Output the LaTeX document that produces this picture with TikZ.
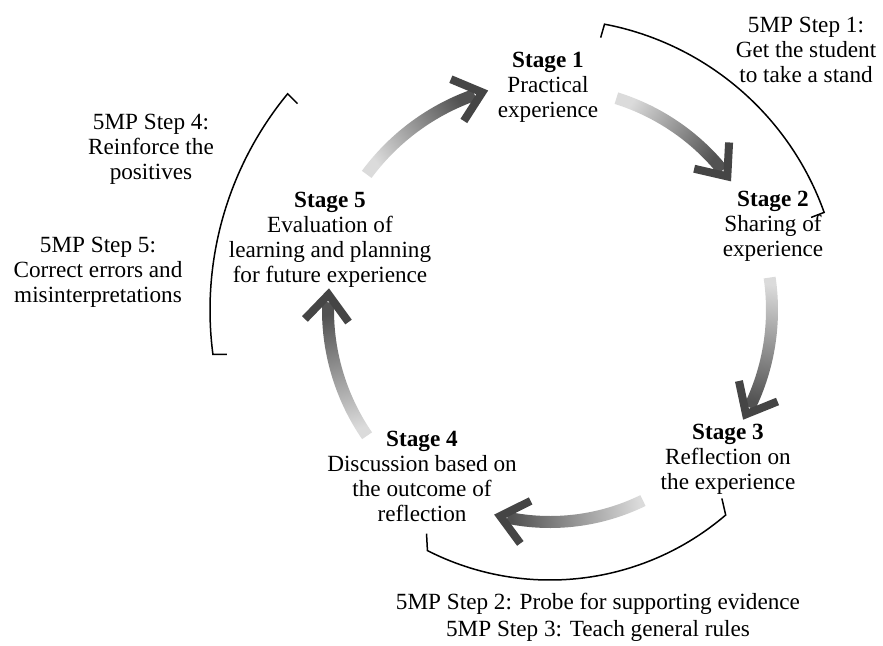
\documentclass[tikz,border=0pt]{standalone}
\usepackage{fontspec}
\setmainfont{Liberation Serif}
\usetikzlibrary{calc}
\definecolor{arrowlight}{gray}{0.86}
\definecolor{arrowdark}{gray}{0.32}
\definecolor{chevrongray}{gray}{0.27}
\tikzstyle{stagetext}=[align=center,inner sep=0pt,font=\fontsize{11.6}{12.5}\selectfont]
\tikzstyle{steptext}=[align=center,inner sep=0pt,font=\fontsize{11.6}{12.5}\selectfont]
\tikzstyle{bracketline}=[draw=black,line width=0.75pt]
\tikzstyle{chevron}=[draw=chevrongray,line width=4pt,line join=miter]
% name, tail angle, tip angle, radius (around hub)
\newcommand{\cyclearrow}[4]{%
  \coordinate (#1-tail) at ($(hub)+({#2}:{#4})$);
  \coordinate (#1-tip) at ($(hub)+({#3}:{#4})$);
  \pgfmathsetmacro{\shadeang}{(#2+#3)/2-180}
  \shade[bottom color=arrowlight,top color=arrowdark,shading angle=\shadeang]
    ($(hub)+({#2}:{#4+6})$) arc[start angle=#2,end angle=#3+2,radius=#4+6]
    -- ($(hub)+({#3+2}:{#4-6})$) arc[start angle=#3+2,end angle=#2,radius=#4-6] -- cycle;
  \draw[chevron] (#1-tip) ++({#3+50}:34) -- (#1-tip) -- ++({#3+130}:34);
}
% from angle, to angle, radius, tick direction at each end
\newcommand{\bracketarc}[6]{%
  \draw[bracketline] ($(hub)+({#1}:{#3})$) ++({#4}:#6) -- ++({#4+180}:#6)
    arc[start angle=#1,end angle=#2,radius=#3] -- ++({#5}:#6);
}

\begin{document}
\begin{tikzpicture}[x=0.5pt,y=0.5pt]
\useasboundingbox (0,0) rectangle (883,-645);
\coordinate (hub) at (550,-310);

\node[stagetext] (stage1) at (548,-87) {\textbf{Stage 1}\\Practical\\experience};
\node[stagetext] (stage2) at (773,-226) {\textbf{Stage 2}\\Sharing of\\experience};
\node[stagetext] (stage3) at (728,-459) {\textbf{Stage 3}\\Reflection on\\the experience};
\node[stagetext] (stage4) at (422,-476) {\textbf{Stage 4}\\Discussion based on\\the outcome of\\reflection};
\node[stagetext] (stage5) at (330,-240) {\textbf{Stage 5}\\Evaluation of\\learning and planning\\for future experience};

\node[steptext] (step1) at (806,-50) {5MP Step 1:\\Get the student\\to take a stand};
\node[steptext] (step4) at (151,-149) {5MP Step 4:\\Reinforce the\\positives};
\node[steptext] (step5) at (98,-272) {5MP Step 5:\\Correct errors and\\misinterpretations};
\node[steptext,font=\fontsize{11.6}{13.5}\selectfont] (step23) at (598,-617)
  {5MP Step 2: Probe for supporting evidence\\5MP Step 3: Teach general rules};

\cyclearrow{a51}{143.5}{107.3}{228}
\cyclearrow{a12}{72.6}{37}{222}
\cyclearrow{a23}{8.4}{-28}{222}
\cyclearrow{a34}{-64}{-103.6}{212}
\cyclearrow{a45}{214.5}{176}{222}

\bracketarc{79.2}{19.6}{291}{-106}{201}{14}
\bracketarc{140.5}{187.5}{340}{-45}{0}{14}
\bracketarc{-49.4}{-117}{270}{103}{93}{17}
\end{tikzpicture}
\end{document}
